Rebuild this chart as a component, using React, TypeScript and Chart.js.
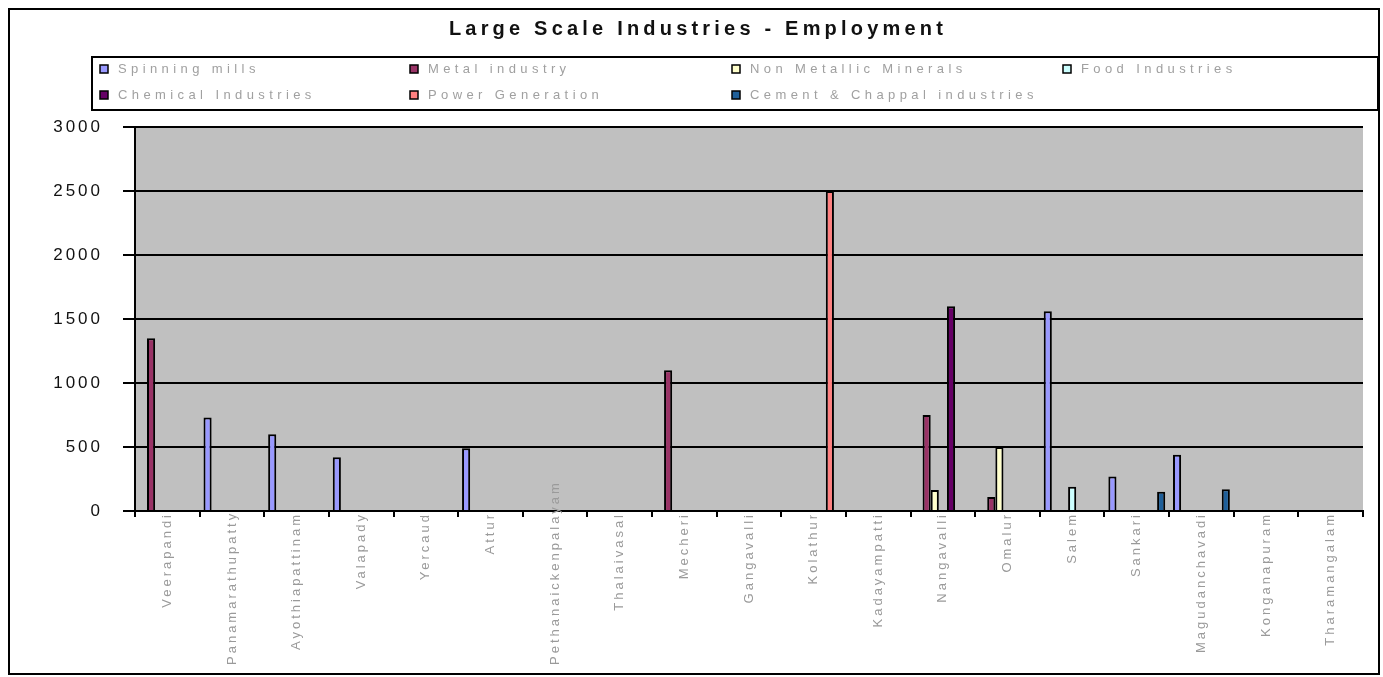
import React, { useEffect, useRef } from "react";
import { Chart, registerables } from "chart.js";

Chart.register(...registerables);

const categories = [
  "Veerapandi", "Panamarathupatty", "Ayothiapattinam", "Valapady", "Yercaud", "Attur",
  "Pethanaickenpalayam", "Thalaivasal", "Mecheri", "Gangavalli", "Kolathur", "Kadayampatti",
  "Nangavalli", "Omalur", "Salem", "Sankari", "Magudanchavadi", "Konganapuram", "Tharamangalam",
];

const spinningMills = [null, 730, 600, 420, null, 490, null, null, null, null, null, null, null, null, 1560, 270, 440, null, null];
const metalIndustry = [1350, null, null, null, null, null, null, null, 1100, null, null, null, 750, 110, null, null, null, null, null];
const nonMetallicMinerals = [null, null, null, null, null, null, null, null, null, null, null, null, 165, 500, null, null, null, null, null];
const foodIndustries = [null, null, null, null, null, null, null, null, null, null, null, null, null, null, 190, null, null, null, null];
const chemicalIndustries = [null, null, null, null, null, null, null, null, null, null, null, null, 1600, null, null, null, null, null, null];
const powerGeneration = [null, null, null, null, null, null, null, null, null, null, 2500, null, null, null, null, null, null, null, null];
const cementChappal = [null, null, null, null, null, null, null, null, null, null, null, null, null, null, null, 150, 170, null, null];

const seriesNames = [
  "Spinning mills", "Metal industry", "Non Metallic Minerals", "Food Industries",
  "Chemical Industries", "Power Generation", "Cement & Chappal industries",
];
const seriesColors = ["#9999FF", "#993366", "#FFFFCC", "#CCFFFF", "#660066", "#FF8080", "#1F5F99"];
const seriesValues = [spinningMills, metalIndustry, nonMetallicMinerals, foodIndustries, chemicalIndustries, powerGeneration, cementChappal];

const yTicks = [0, 500, 1000, 1500, 2000, 2500, 3000];
const chartTitle = "Large Scale Industries - Employment";

const FONT = "'Liberation Sans', Arial, sans-serif";

const framePlugin = {
  id: "framePlugin",
  beforeUpdate(chart: any) {
    chart.ctx.letterSpacing = "3px";
  },
  beforeDraw(chart: any) {
    const { ctx, chartArea, width, height } = chart;
    ctx.save();
    ctx.fillStyle = "#ffffff";
    ctx.fillRect(0, 0, width, height);
    ctx.fillStyle = "#C0C0C0";
    ctx.fillRect(chartArea.left, chartArea.top, chartArea.right - chartArea.left, chartArea.bottom - chartArea.top);
    ctx.restore();
    ctx.letterSpacing = "3px";
  },
  afterDraw(chart: any) {
    const { ctx, width, height, chartArea } = chart;
    ctx.save();
    // outer border
    ctx.strokeStyle = "#000";
    ctx.lineWidth = 2;
    ctx.strokeRect(1, 1, width - 2, height - 2);
    // title
    ctx.letterSpacing = "4.2px";
    ctx.fillStyle = "#111";
    ctx.font = `bold 20px ${FONT}`;
    ctx.textAlign = "center";
    ctx.textBaseline = "middle";
    ctx.fillText(chartTitle, width / 2 + 4, 21);
    // legend box
    ctx.lineWidth = 2;
    ctx.strokeStyle = "#000";
    ctx.strokeRect(84, 49, width - 84 - 2, 53);
    const cols = [92, 402, 724, 1055];
    const rows = [61, 87];
    ctx.font = `13px ${FONT}`;
    ctx.letterSpacing = "4.4px";
    ctx.textAlign = "left";
    chart.data.datasets.forEach((ds: any, i: number) => {
      const x = cols[i % 4];
      const y = rows[Math.floor(i / 4)];
      ctx.fillStyle = ds.backgroundColor;
      ctx.fillRect(x, y - 4, 8, 8);
      ctx.lineWidth = 1.5;
      ctx.strokeStyle = "#000";
      ctx.strokeRect(x, y - 4, 8, 8);
      ctx.fillStyle = "#a0a0a0";
      ctx.fillText(ds.label, x + 18, y);
    });
    // x labels (rotated, Excel-like overflow)
    const xScale = chart.scales.x;
    ctx.font = `13px ${FONT}`;
    ctx.letterSpacing = "3px";
    ctx.fillStyle = "#9a9a9a";
    ctx.textAlign = "right";
    ctx.textBaseline = "middle";
    const startY = chartArea.bottom + 1;
    const maxEnd = height - 10;
    (chart.data.labels as string[]).forEach((lab: string, i: number) => {
      const x = xScale.getPixelForValue(i);
      const w = ctx.measureText(lab).width;
      let s = startY;
      if (s + w > maxEnd) s = maxEnd - w;
      ctx.save();
      ctx.translate(x, s);
      ctx.rotate(-Math.PI / 2);
      ctx.fillText(lab, 0, 0);
      ctx.restore();
    });
    ctx.restore();
  },
};

export default function App() {
  const canvasRef = useRef<HTMLCanvasElement>(null);

  useEffect(() => {
    if (!canvasRef.current) return;
    const chart = new Chart(canvasRef.current, {
      type: "bar",
      data: {
        labels: categories,
        datasets: seriesNames.map((name, i) => ({
          label: name,
          data: seriesValues[i],
          backgroundColor: seriesColors[i],
          borderColor: "#000",
          borderWidth: 2,
          categoryPercentage: 0.88,
          barPercentage: 1,
        })),
      },
      options: {
        animation: false,
        responsive: true,
        maintainAspectRatio: false,
        layout: { padding: { top: 119, right: 17, left: 0, bottom: 0 } },
        plugins: {
          legend: { display: false },
          title: { display: false },
          tooltip: { enabled: false },
        },
        scales: {
          x: {
            type: "category",
            offset: true,
            grid: {
              display: true,
              drawOnChartArea: false,
              drawTicks: true,
              tickLength: 6,
              color: "#000",
              lineWidth: 2,
              offset: true,
            },
            border: { display: true, color: "#000", width: 2 },
            ticks: { display: false, autoSkip: false },
            afterFit(scale: any) {
              scale.height = 164;
            },
          },
          y: {
            min: 0,
            max: 3000,
            afterBuildTicks(scale: any) {
              scale.ticks = yTicks.map((v) => ({ value: v }));
            },
            grid: {
              color: "#000",
              lineWidth: 2,
              drawTicks: true,
              tickLength: 12,
            },
            border: { display: true, color: "#000", width: 2 },
            ticks: {
              color: "#111",
              font: { family: FONT, size: 17 },
              padding: 20,
              callback: (v: any) => String(v),
            },
            afterFit(scale: any) {
              scale.width = 127;
            },
          },
        },
      },
      plugins: [framePlugin],
    });
    return () => chart.destroy();
  }, []);

  return (
    <div style={{ position: "absolute", left: 8, top: 8, width: 1372, height: 667 }}>
      <canvas ref={canvasRef} />
    </div>
  );
}
